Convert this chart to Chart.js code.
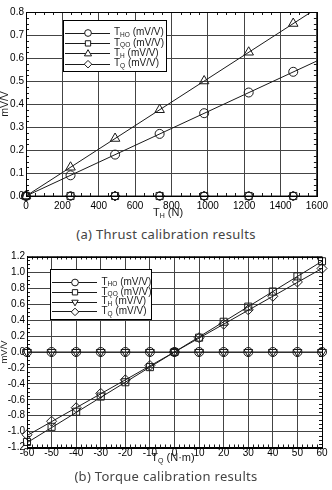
<!DOCTYPE html>
<html>
<head>
<meta charset="utf-8">
<script src="https://cdn.jsdelivr.net/npm/chart.js@4.4.1/dist/chart.umd.min.js"></script>
<style>
    body { margin: 0; background: #fff; width: 332px; height: 490px; overflow: hidden; position: relative; }
    .box { position: absolute; left: 0; width: 332px; }
    .cap { position: absolute; left: 0; width: 332px; text-align: center; font: 13px "Noto Sans", sans-serif; color: #444; letter-spacing: 0.3px; }
</style>
</head>
<body>
<div class="box" style="top:0;height:222px"><canvas id="thrust"></canvas></div>
<div class="cap" style="top:225px">(a) Thrust calibration results</div>
<div class="box" style="top:245px;height:225px"><canvas id="torque"></canvas></div>
<div class="cap" style="top:467px">(b) Torque calibration results</div>

<script>
// (a) thrust calibration
const thrustLoad = [0, 245, 490, 735, 980, 1225, 1470];
const thrustTHO = [0, 0.09, 0.18, 0.27, 0.36, 0.45, 0.54];
const thrustTQO = [0, 0, 0, 0, 0, 0, 0];
const thrustTH = [0, 0.125, 0.25, 0.375, 0.5, 0.625, 0.75];
const thrustTQ = [0, 0, 0, 0, 0, 0, 0];
const thrustFitX = [0, 1600];
const thrustFitTHO = [0, 0.587];
const thrustFitTH = [0, 0.816];
const thrustFitZero = [0, 0];
const thrustXTicks = [0, 200, 400, 600, 800, 1000, 1200, 1400, 1600];
const thrustYTicks = [0, 0.1, 0.2, 0.3, 0.4, 0.5, 0.6, 0.7, 0.8];

// (b) torque calibration
const torqueLoad = [-60, -50, -40, -30, -20, -10, 0, 10, 20, 30, 40, 50, 60];
const torqueTHO = [0, 0, 0, 0, 0, 0, 0, 0, 0, 0, 0, 0, 0];
const torqueTQO = [-1.13, -0.94, -0.75, -0.56, -0.38, -0.19, 0, 0.18, 0.38, 0.57, 0.76, 0.95, 1.14];
const torqueTH = [0, 0, 0, 0, 0, 0, 0, 0, 0, 0, 0, 0, 0];
const torqueTQ = [-1.04, -0.87, -0.70, -0.52, -0.35, -0.17, 0, 0.18, 0.35, 0.53, 0.70, 0.88, 1.05];
const torqueFitX = [-60, 60];
const torqueFitTQO = [-1.14, 1.14];
const torqueFitTQ = [-1.05, 1.05];
const torqueFitZero = [0, 0];
const torqueXTicks = [-60, -50, -40, -30, -20, -10, 0, 10, 20, 30, 40, 50, 60];
const torqueYTicks = [-1.2, -1.0, -0.8, -0.6, -0.4, -0.2, 0, 0.2, 0.4, 0.6, 0.8, 1.0, 1.2];

const legendNames = ["HO", "QO", "H", "Q"];

const INK = "#1a1a1a";
const FONT = "Arial, \"Liberation Sans\", sans-serif";

function pts(xs, ys) {
    return xs.map((x, i) => ({ x: x, y: ys[i] }));
}

function fitLine(xs, ys) {
    return {
        type: "line",
        data: pts(xs, ys),
        borderColor: INK,
        borderWidth: 1,
        pointRadius: 0,
        fill: false
    };
}

function markers(xs, ys, style, radius, rotation) {
    return {
        type: "scatter",
        data: pts(xs, ys),
        showLine: false,
        clip: false,
        pointStyle: style,
        pointRadius: radius,
        pointRotation: rotation || 0,
        borderColor: INK,
        backgroundColor: "rgba(0,0,0,0)",
        borderWidth: 1
    };
}

// text with subscript parts: [text, size, dy]
function drawParts(ctx, x, y, parts, center) {
    let w = 0;
    parts.forEach(p => {
        ctx.font = p[1] + "px " + FONT;
        w += ctx.measureText(p[0]).width;
    });
    let cx = center ? x - w / 2 : x;
    ctx.textAlign = "left";
    ctx.textBaseline = "middle";
    ctx.fillStyle = INK;
    parts.forEach(p => {
        ctx.font = p[1] + "px " + FONT;
        ctx.fillText(p[0], cx, y + (p[2] || 0));
        cx += ctx.measureText(p[0]).width;
    });
}

const decor = {
    id: "decor",
    afterDatasetsDraw(chart, args, o) {
        const ctx = chart.ctx;
        const a = chart.chartArea;
        const xs = chart.scales.x, ys = chart.scales.y;
        ctx.save();

        // minor ticks inside, all four sides
        ctx.strokeStyle = INK;
        ctx.lineWidth = 1;
        ctx.beginPath();
        for (let i = 0; i < o.xTicks.length - 1; i++) {
            for (let k = 1; k < o.xMinor; k++) {
                const v = o.xTicks[i] + (o.xTicks[i + 1] - o.xTicks[i]) * k / o.xMinor;
                const px = Math.round(xs.getPixelForValue(v)) + 0.5;
                ctx.moveTo(px, a.top); ctx.lineTo(px, a.top + 3);
                ctx.moveTo(px, a.bottom); ctx.lineTo(px, a.bottom - 3);
            }
        }
        for (let i = 0; i < o.yTicks.length - 1; i++) {
            for (let k = 1; k < o.yMinor; k++) {
                const v = o.yTicks[i] + (o.yTicks[i + 1] - o.yTicks[i]) * k / o.yMinor;
                const py = Math.round(ys.getPixelForValue(v)) + 0.5;
                ctx.moveTo(a.left, py); ctx.lineTo(a.left + 3, py);
                ctx.moveTo(a.right, py); ctx.lineTo(a.right - 3, py);
            }
        }
        ctx.stroke();

        // frame
        ctx.strokeStyle = "#000";
        ctx.strokeRect(Math.round(a.left) + 0.5, Math.round(a.top) + 0.5,
            Math.round(a.right - a.left), Math.round(a.bottom - a.top));

        // legend
        const L = o.legend;
        ctx.fillStyle = "#fff";
        ctx.fillRect(L.x0, L.y0, L.x1 - L.x0, L.y1 - L.y0);
        ctx.strokeStyle = "#000";
        ctx.strokeRect(L.x0 + 0.5, L.y0 + 0.5, L.x1 - L.x0, L.y1 - L.y0);
        chart.data.datasets.filter(d => d.type === "scatter").forEach((d, i) => {
            const y = L.row0 + i * L.step;
            ctx.strokeStyle = INK;
            ctx.beginPath();
            ctx.moveTo(L.lineX0, Math.round(y) + 0.5);
            ctx.lineTo(L.lineX1, Math.round(y) + 0.5);
            ctx.stroke();
            ctx.fillStyle = "#fff";
            ctx.strokeStyle = INK;
            Chart.helpers.drawPoint(ctx, {
                pointStyle: d.pointStyle,
                radius: d.pointRadius * 0.75,
                rotation: d.pointRotation,
                borderWidth: 1
            }, L.markX, y + 0.5);
            drawParts(ctx, L.textX, y, [["T", 10, 0], [legendNames[i], 6.5, 2.5], [" (mV/V)", 10, 0]], false);
        });

        // axis titles
        drawParts(ctx, o.xTitle.x, o.xTitle.y, o.xTitle.parts, true);
        ctx.translate(o.yTitle.x, (a.top + a.bottom) / 2);
        ctx.rotate(-Math.PI / 2);
        drawParts(ctx, 0, 0, [["mV/V", o.yTitle.size, 0]], true);
        ctx.restore();
    }
};

function axes(xMin, xMax, xTicks, yMin, yMax, yTicks, xH, yW, lblPad) {
    return {
        x: {
            type: "linear",
            min: xMin,
            max: xMax,
            afterBuildTicks: s => { s.ticks = xTicks.map(v => ({ value: v })); },
            afterFit: s => { s.height = xH; },
            ticks: {
                color: "#000",
                padding: lblPad,
                maxRotation: 0,
                autoSkip: false,
                font: { family: FONT, size: 10 },
                callback: v => String(v)
            },
            grid: { color: "#444", lineWidth: 1, drawTicks: false },
            border: { color: "#000", width: 1 }
        },
        y: {
            type: "linear",
            min: yMin,
            max: yMax,
            afterBuildTicks: s => { s.ticks = yTicks.map(v => ({ value: v })); },
            afterFit: s => { s.width = yW; },
            ticks: {
                color: "#000",
                padding: 2,
                autoSkip: false,
                font: { family: FONT, size: 10 },
                callback: v => (Math.round(v * 10) / 10).toFixed(1)
            },
            grid: { color: "#444", lineWidth: 1, drawTicks: false },
            border: { color: "#000", width: 1 }
        }
    };
}

new Chart(document.getElementById("thrust"), {
    type: "scatter",
    data: {
        datasets: [
            fitLine(thrustFitX, thrustFitTHO),
            fitLine(thrustFitX, thrustFitTH),
            fitLine(thrustFitX, thrustFitZero),
            markers(thrustLoad, thrustTHO, "circle", 4.5),
            markers(thrustLoad, thrustTQO, "rect", 5),
            markers(thrustLoad, thrustTH, "triangle", 5.5),
            markers(thrustLoad, thrustTQ, "rectRot", 5)
        ]
    },
    options: {
        responsive: true,
        maintainAspectRatio: false,
        animation: false,
        layout: { padding: { top: 12, right: 10, left: 0, bottom: 0 } },
        scales: axes(0, 1600, thrustXTicks, 0, 0.8, thrustYTicks, 26, 26, 4),
        plugins: {
            legend: { display: false },
            tooltip: { enabled: false },
            decor: {
                xTicks: thrustXTicks, xMinor: 4,
                yTicks: thrustYTicks, yMinor: 4,
                legend: { x0: 63, y0: 20, x1: 166, y1: 71, row0: 32.5, step: 10.4, lineX0: 65, lineX1: 110, markX: 88, textX: 114 },
                xTitle: { x: 168, y: 213, parts: [["T", 11, 0], ["H", 7, 3], [" (N)", 11, 0]] },
                yTitle: { x: 5, size: 10.5 }
            }
        }
    },
    plugins: [decor]
});

new Chart(document.getElementById("torque"), {
    type: "scatter",
    data: {
        datasets: [
            fitLine(torqueFitX, torqueFitTQO),
            fitLine(torqueFitX, torqueFitTQ),
            fitLine(torqueFitX, torqueFitZero),
            markers(torqueLoad, torqueTHO, "circle", 4.5),
            markers(torqueLoad, torqueTQO, "rect", 5),
            markers(torqueLoad, torqueTH, "triangle", 5, 180),
            markers(torqueLoad, torqueTQ, "rectRot", 5)
        ]
    },
    options: {
        responsive: true,
        maintainAspectRatio: false,
        animation: false,
        layout: { padding: { top: 11.5, right: 10, left: 0, bottom: 0 } },
        scales: axes(-60, 60, torqueXTicks, -1.2, 1.2, torqueYTicks, 22.5, 27, 0),
        plugins: {
            legend: { display: false },
            tooltip: { enabled: false },
            decor: {
                xTicks: torqueXTicks, xMinor: 5,
                yTicks: torqueYTicks, yMinor: 4,
                legend: { x0: 50, y0: 24, x1: 151, y1: 74, row0: 37, step: 9.8, lineX0: 52, lineX1: 97, markX: 75, textX: 101.5 },
                xTitle: { x: 173, y: 213, parts: [["T", 11, 0], ["Q", 7, 3], [" (N\u00b7m)", 11, 0]] },
                yTitle: { x: 4.5, size: 9.5 }
            }
        }
    },
    plugins: [decor]
});
</script>
</body>
</html>
